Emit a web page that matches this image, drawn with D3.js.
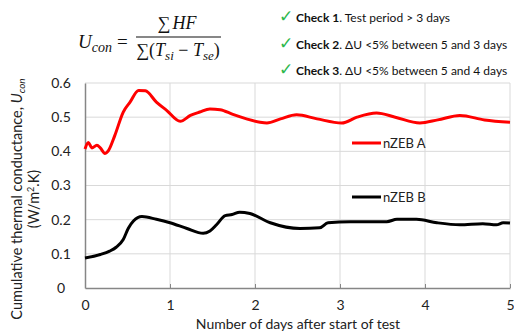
<!DOCTYPE html>
<html>
<head>
<meta charset="utf-8">
<script src="https://cdn.jsdelivr.net/npm/d3@7"></script>
<style>
  body { margin: 0; background: #fff; }
  svg { display: block; font-family: Lato, "Open Sans", sans-serif; }
</style>
</head>
<body>
<div id="chart"></div>
<script>
// days after start of test, cumulative U values
const daysA = [0, 0.04, 0.08, 0.14, 0.18, 0.235, 0.27, 0.35, 0.45, 0.53, 0.63, 0.71, 0.84, 0.96, 1.12, 1.24, 1.35, 1.47, 1.59, 1.74, 1.9, 2.06, 2.14, 2.3, 2.49, 2.73, 3.02, 3.2, 3.43, 3.65, 3.94, 4.15, 4.41, 4.7, 5.0];
const uA    = [0.407, 0.426, 0.41, 0.418, 0.41, 0.394, 0.4, 0.446, 0.515, 0.544, 0.578, 0.577, 0.544, 0.52, 0.488, 0.505, 0.515, 0.524, 0.522, 0.508, 0.495, 0.485, 0.483, 0.495, 0.507, 0.495, 0.483, 0.5, 0.512, 0.5, 0.483, 0.492, 0.505, 0.492, 0.485];

const daysB = [0, 0.18, 0.29, 0.37, 0.45, 0.51, 0.57, 0.67, 0.84, 1.0, 1.2, 1.39, 1.47, 1.55, 1.65, 1.73, 1.82, 1.94, 2.18, 2.53, 2.76, 2.86, 3.12, 3.55, 3.67, 3.9, 4.14, 4.41, 4.68, 4.84, 4.92, 5.0];
const uB    = [0.088, 0.098, 0.108, 0.12, 0.142, 0.175, 0.196, 0.209, 0.201, 0.191, 0.174, 0.16, 0.167, 0.186, 0.212, 0.215, 0.222, 0.218, 0.191, 0.174, 0.176, 0.191, 0.194, 0.194, 0.201, 0.201, 0.191, 0.185, 0.188, 0.185, 0.191, 0.19];

const seriesNames = ["nZEB A", "nZEB B"];
const xTicks = [0, 1, 2, 3, 4, 5];
const yTicks = [0, 0.1, 0.2, 0.3, 0.4, 0.5, 0.6];

const W = 514, H = 334;
const margin = {top: 83, right: 4, bottom: 46, left: 85};

const svg = d3.select("#chart").append("svg")
  .attr("width", W).attr("height", H);

const x = d3.scaleLinear().domain([0, 5]).range([margin.left, W - margin.right]);
const y = d3.scaleLinear().domain([0, 0.6]).range([H - margin.bottom, margin.top]);

// gridlines
svg.append("g").selectAll("line.h").data(yTicks.slice(1)).join("line")
  .attr("x1", x(0)).attr("x2", x(5))
  .attr("y1", d => y(d)).attr("y2", d => y(d))
  .attr("stroke", "#d9d9d9").attr("stroke-width", 1);
svg.append("g").selectAll("line.v").data(xTicks.slice(1)).join("line")
  .attr("x1", d => x(d)).attr("x2", d => x(d))
  .attr("y1", y(0)).attr("y2", y(0.6))
  .attr("stroke", "#d9d9d9").attr("stroke-width", 1);

// axes
const xAxis = svg.append("g").attr("transform", `translate(0,${y(0)})`)
  .call(d3.axisBottom(x).tickValues(xTicks).tickFormat(d3.format("d")).tickSizeInner(-4).tickSizeOuter(0).tickPadding(12));
const yAxis = svg.append("g").attr("transform", `translate(${x(0)},0)`)
  .call(d3.axisLeft(y).tickValues(yTicks).tickFormat(d => d === 0 ? "0" : d3.format(".1f")(d)).tickSize(0).tickPadding(17));
[xAxis, yAxis].forEach(g => {
  g.select(".domain").attr("stroke", "#868686").attr("stroke-width", 1.5);
  g.selectAll(".tick line").attr("stroke", "#868686");
  g.selectAll("text").attr("font-size", 14).attr("fill", "#222").attr("font-family", "Lato, sans-serif");
});
yAxis.selectAll("text").attr("text-anchor", "middle").attr("dx", "-0.5em");

// lines
const line = d3.line().x(d => x(d[0])).y(d => y(d[1])).curve(d3.curveMonotoneX);
svg.append("path").datum(d3.zip(daysA, uA)).attr("d", line)
  .attr("fill", "none").attr("stroke", "#ff0000").attr("stroke-width", 3);
svg.append("path").datum(d3.zip(daysB, uB)).attr("d", line)
  .attr("fill", "none").attr("stroke", "#000").attr("stroke-width", 3);

// legend
const legend = [{name: seriesNames[0], color: "#ff0000", y: 143}, {name: seriesNames[1], color: "#000", y: 197}];
legend.forEach(l => {
  svg.append("line").attr("x1", 352).attr("x2", 381).attr("y1", l.y).attr("y2", l.y)
    .attr("stroke", l.color).attr("stroke-width", 3);
  svg.append("text").attr("x", 383).attr("y", l.y + 4.5).attr("font-size", 13).attr("fill", "#222")
    .text(l.name);
});

// axis titles
svg.append("text").attr("x", 298).attr("y", 329).attr("text-anchor", "middle")
  .attr("font-size", 14).attr("fill", "#222").text("Number of days after start of test");

const yt = svg.append("text").attr("transform", "translate(22,199) rotate(-90)")
  .attr("text-anchor", "middle").attr("font-size", 14.5).attr("fill", "#222");
yt.append("tspan").text("Cumulative thermal conductance, ");
yt.append("tspan").attr("font-style", "italic").text("U");
yt.append("tspan").attr("font-style", "italic").attr("font-size", 10).attr("dy", 3).text("con");
const yt2 = svg.append("text").attr("transform", "translate(39,199) rotate(-90)")
  .attr("text-anchor", "middle").attr("font-size", 14.5).attr("fill", "#222");
yt2.append("tspan").text("(W/m");
yt2.append("tspan").attr("font-size", 9).attr("dy", -5).text("2");
yt2.append("tspan").attr("dy", 5).text(".K)");

// equation
const eq = svg.append("g").attr("font-family", "'Liberation Serif', 'DejaVu Serif', serif").attr("fill", "#111");
const lhs = eq.append("text").attr("x", 78).attr("y", 48).attr("font-size", 19);
lhs.append("tspan").attr("font-style", "italic").text("U");
lhs.append("tspan").attr("font-style", "italic").attr("font-size", 14).attr("dy", 4).text("con");
lhs.append("tspan").attr("dy", -4).attr("dx", 5).text("=");
eq.append("line").attr("x1", 136).attr("x2", 221).attr("y1", 37).attr("y2", 37)
  .attr("stroke", "#111").attr("stroke-width", 1.2);
const num = eq.append("text").attr("x", 177).attr("y", 29).attr("text-anchor", "middle").attr("font-size", 18);
num.append("tspan").text("∑");
num.append("tspan").attr("font-style", "italic").attr("dx", 2).text("HF");
const den = eq.append("text").attr("x", 178).attr("y", 56).attr("text-anchor", "middle").attr("font-size", 18);
den.append("tspan").text("∑(");
den.append("tspan").attr("font-style", "italic").text("T");
den.append("tspan").attr("font-style", "italic").attr("font-size", 13).attr("dy", 4).text("si");
den.append("tspan").attr("dy", -4).text(" − ");
den.append("tspan").attr("font-style", "italic").text("T");
den.append("tspan").attr("font-style", "italic").attr("font-size", 13).attr("dy", 4).text("se");
den.append("tspan").attr("dy", -4).text(")");

// checks
const checks = [
  {bold: "Check 1", rest: ". Test period > 3 days"},
  {bold: "Check 2", rest: ". ΔU <5% between 5 and 3 days"},
  {bold: "Check 3", rest: ". ΔU <5% between 5 and 4 days"}
];
checks.forEach((c, i) => {
  const cy = 22 + i * 26.5;
  svg.append("text").attr("x", 279).attr("y", cy).attr("font-size", 17).attr("font-weight", "bold")
    .attr("fill", "#2db84d").attr("font-family", "'DejaVu Sans', sans-serif").text("✓");
  const t = svg.append("text").attr("x", 296).attr("y", cy).attr("font-size", 12).attr("fill", "#111");
  t.append("tspan").attr("font-weight", "bold").text(c.bold);
  t.append("tspan").text(c.rest);
});
</script>
</body>
</html>
